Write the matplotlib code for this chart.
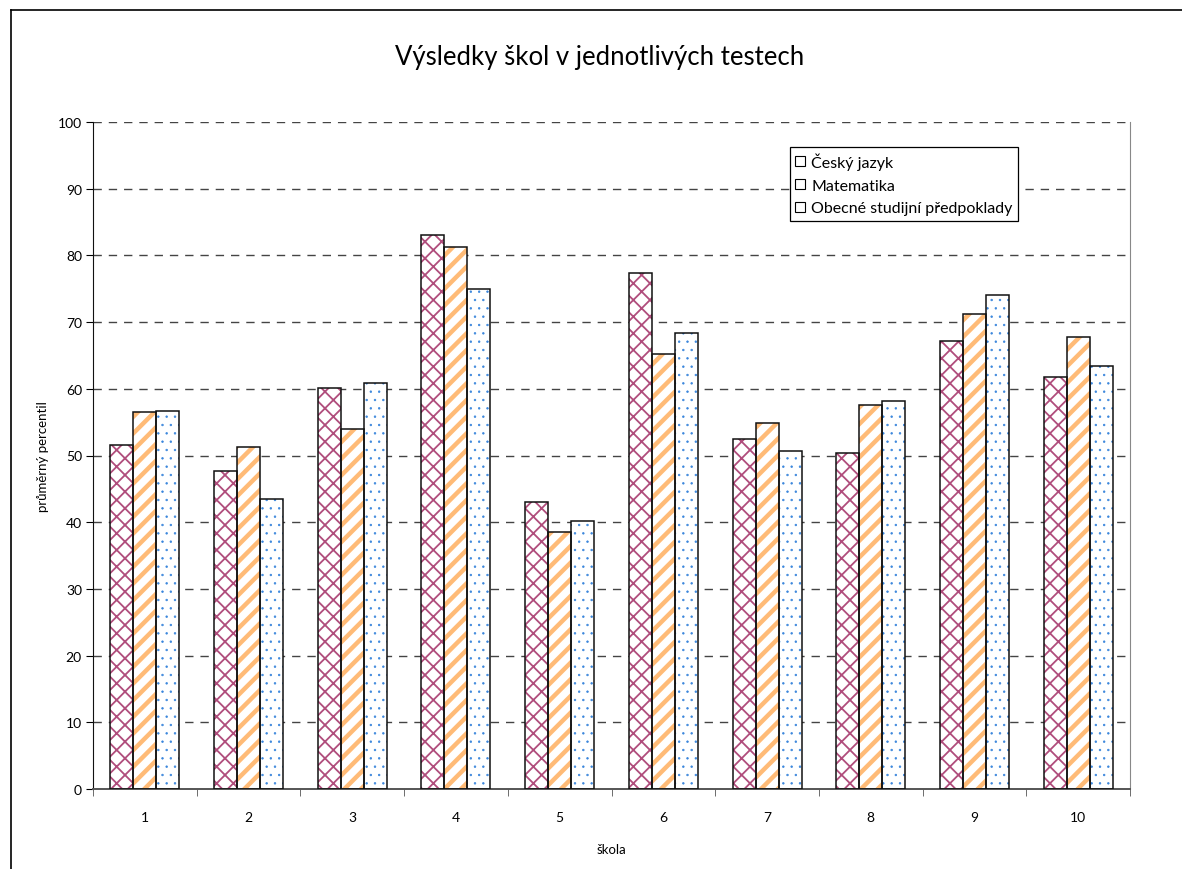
import matplotlib
matplotlib.use("Agg")
import matplotlib.pyplot as plt
import numpy as np
from matplotlib.lines import Line2D
from matplotlib.patches import Patch

plt.rcParams['font.family'] = ['Lato', 'DejaVu Sans']

skoly = [1, 2, 3, 4, 5, 6, 7, 8, 9, 10]
cesky = [51.5, 47.7, 60.1, 83.0, 43.0, 77.3, 52.4, 50.3, 67.1, 61.7]
matematika = [56.5, 51.3, 54.0, 81.2, 38.6, 65.2, 54.8, 57.5, 71.2, 67.7]
osp = [56.7, 43.5, 60.8, 74.9, 40.2, 68.3, 50.6, 58.2, 74.0, 63.4]
nazvy = ["Český jazyk", "Matematika", "Obecné studijní předpoklady"]

fig = plt.figure(figsize=(11.82, 8.70), dpi=100)
ax = fig.add_axes([93/1182, 1-790/870, (1130-93)/1182, (790-123)/870])

x = np.arange(len(skoly))
w = 0.222
styly = [("xx", "#b04d7c", 1.3), ("//", "#ffbb77", 3.2), ("..", "#3a86dc", 0.5)]
serie = [cesky, matematika, osp]

for i, (vals, (h, c, lw)) in enumerate(zip(serie, styly)):
    pos = x + (i - 1) * w
    with plt.rc_context({'hatch.linewidth': lw}):
        bb = ax.bar(pos, vals, w, facecolor="white", edgecolor=c, hatch=h,
                    linewidth=0, zorder=2)
        for b in bb:
            if hasattr(b, "set_hatch_linewidth"):
                b.set_hatch_linewidth(lw)
    ax.bar(pos, vals, w, facecolor="none", edgecolor="#111111",
           linewidth=1.1, zorder=3)

ax.set_xlim(-0.5, len(skoly) - 0.5)
ax.set_ylim(0, 100)
ax.set_yticks(range(0, 101, 10))
ax.set_xticks(x)
ax.set_xticklabels([str(s) for s in skoly])
ax.set_xticks(np.arange(-0.5, len(skoly)), minor=True)
ax.tick_params(axis='x', which='major', length=0, pad=16, labelsize=10)
ax.tick_params(axis='x', which='minor', length=5, direction='out', color="#555555")
ax.tick_params(axis='y', length=5, direction='out', labelsize=10, pad=3)

ax.yaxis.grid(True, linestyle=(0, (6, 5)), color="#444444", linewidth=1, zorder=0)
ax.set_axisbelow(True)
ax.spines["top"].set_visible(False)
ax.spines["right"].set_color("#888888")
ax.spines["left"].set_color("#111111")
ax.spines["bottom"].set_color("#555555")
ax.spines["bottom"].set_linewidth(1.4)

ax.set_xlabel("škola", fontsize=9.5, labelpad=14)
ax.set_ylabel("průměrný percentil", fontsize=9.5, labelpad=6)
fig.text(600/1182, 1-58/870, "Výsledky škol v jednotlivých testech",
         ha="center", va="center", fontsize=18.5)

handles = [Patch(facecolor="white", edgecolor="black", linewidth=0.8, label=n) for n in nazvy]
leg = ax.legend(handles=handles, loc="upper left", bbox_to_anchor=(0.672, 0.963),
                fancybox=False, edgecolor="black", framealpha=1, fontsize=11.5,
                handlelength=0.6, handleheight=0.6, handletextpad=0.4,
                borderpad=0.35, labelspacing=0.55, borderaxespad=0)
leg.get_frame().set_linewidth(0.9)

fig.add_artist(Line2D([11/1182, 1], [1-11/870, 1-11/870], color="black", linewidth=1.2))
fig.add_artist(Line2D([11/1182, 11/1182], [0, 1-11/870], color="black", linewidth=1.2))

fig.savefig("out.png", dpi=100)
